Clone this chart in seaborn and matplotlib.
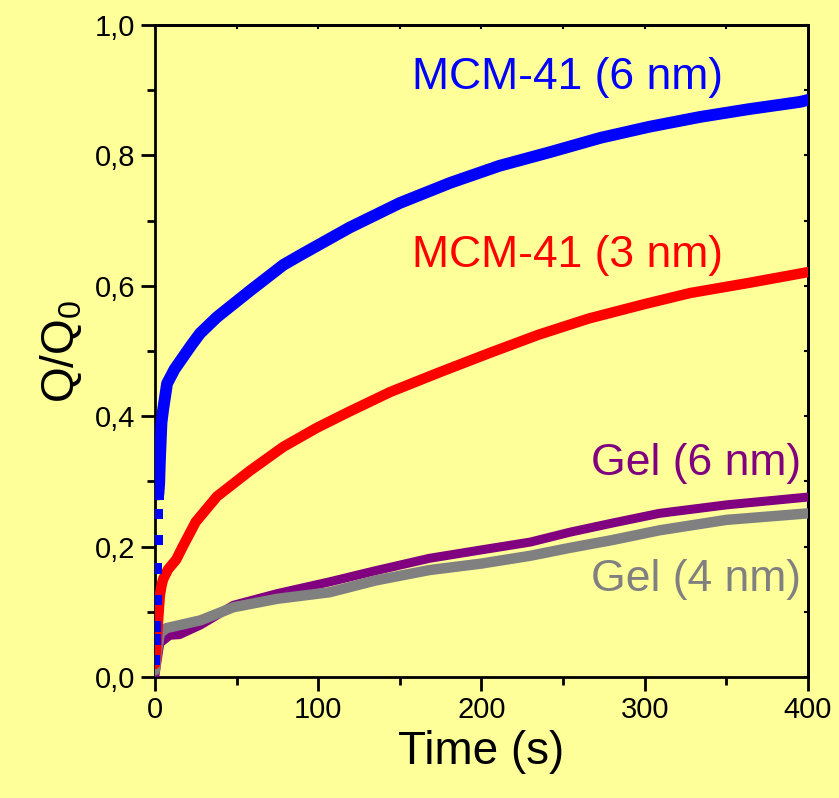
import matplotlib
import matplotlib.pyplot as plt
import seaborn as sns
from matplotlib.ticker import MultipleLocator, FuncFormatter

matplotlib.use('Agg')

# values
t_mcm6 = [0, 0.3, 0.6, 0.9, 1.2, 1.5, 1.8, 2.1,
          2.6, 3, 3.5, 4, 5, 7.4, 12, 17, 22, 27.6, 38, 58, 78.6, 89, 104,
          119, 150, 181, 211, 242, 273, 303, 334, 364, 395, 400]
q_mcm6 = [0.026, 0.057, 0.077, 0.118, 0.166, 0.21, 0.25, 0.28,
          0.297, 0.33, 0.36, 0.39, 0.41, 0.45, 0.472, 0.49, 0.508, 0.527, 0.552, 0.592, 0.632, 0.647,
          0.668, 0.689, 0.727, 0.758, 0.784, 0.805, 0.827, 0.844, 0.859, 0.871, 0.882, 0.885]

t_mcm3 = [0, 1, 2, 3, 4, 5, 8, 13, 17, 25, 38, 58, 78.6, 99, 119, 144, 175, 205,
          235, 266, 300, 328, 365, 400]
q_mcm3 = [0.02, 0.05, 0.09, 0.125, 0.14, 0.15, 0.165, 0.18, 0.2, 0.238, 0.277, 0.316, 0.353,
          0.382, 0.407, 0.437, 0.468, 0.497, 0.525, 0.55, 0.572, 0.589, 0.605, 0.621]

t_gel6 = [0, 1, 3, 9, 15, 28, 48, 75, 107, 135, 168, 200, 230, 254, 280, 309, 350, 400]
q_gel6 = [0.003, 0.02, 0.052, 0.064, 0.065, 0.08, 0.11, 0.128, 0.146, 0.163, 0.182, 0.195,
          0.207, 0.222, 0.236, 0.251, 0.264, 0.276]

t_gel4 = [0, 1, 3, 7, 28, 48, 75, 107, 135, 168, 200, 230, 254, 280, 309, 350, 400]
q_gel4 = [0.01, 0.035, 0.067, 0.075, 0.087, 0.107, 0.12, 0.13, 0.148, 0.164, 0.174, 0.186,
          0.198, 0.21, 0.225, 0.241, 0.251]

labels = ['MCM-41 (6 nm)', 'MCM-41 (3 nm)', 'Gel (6 nm)', 'Gel (4 nm)']
colors = ['#0000FF', '#FF0000', '#800080', '#808080']

bg = '#FFFF99'

sns.set_style('ticks')
plt.rcParams['font.family'] = ['Liberation Sans', 'DejaVu Sans']
plt.rcParams['mathtext.fontset'] = 'custom'
plt.rcParams['mathtext.rm'] = 'Liberation Sans'
for k in ['text.color', 'axes.labelcolor', 'xtick.color', 'ytick.color', 'axes.edgecolor']:
    plt.rcParams[k] = 'black'

fig = plt.figure(figsize=(8.39, 7.98), dpi=100, facecolor=bg)
ax = fig.add_axes([0.1847, 0.1516, 0.7783, 0.8171])
ax.set_facecolor(bg)

# blue: first points are isolated squares, then a dense band
n_sq = 8
sns.scatterplot(x=t_mcm6[:n_sq], y=q_mcm6[:n_sq], marker='s', s=60, color=colors[0],
                edgecolor='none', ax=ax, zorder=5)
sns.lineplot(x=t_mcm6[n_sq - 1:], y=q_mcm6[n_sq - 1:], color=colors[0], lw=8.5,
             sort=False, ax=ax, zorder=5)
sns.lineplot(x=t_mcm3, y=q_mcm3, color=colors[1], lw=7.5, sort=False, ax=ax, zorder=4)
sns.lineplot(x=t_gel6, y=q_gel6, color=colors[2], lw=6.5, sort=False, ax=ax, zorder=3)
sns.lineplot(x=t_gel4, y=q_gel4, color=colors[3], lw=7.5, sort=False, ax=ax, zorder=3)

# curve labels
ax.text(348, 0.919, labels[0], color=colors[0], fontsize=32, ha='right', va='center')
ax.text(348, 0.647, labels[1], color=colors[1], fontsize=32, ha='right', va='center')
ax.text(396, 0.328, labels[2], color=colors[2], fontsize=32, ha='right', va='center')
ax.text(396, 0.149, labels[3], color=colors[3], fontsize=32, ha='right', va='center')

ax.set_xlim(0, 400)
ax.set_ylim(0, 1.0)
ax.xaxis.set_major_locator(MultipleLocator(100))
ax.xaxis.set_minor_locator(MultipleLocator(50))
ax.yaxis.set_major_locator(MultipleLocator(0.2))
ax.yaxis.set_minor_locator(MultipleLocator(0.1))
ax.yaxis.set_major_formatter(FuncFormatter(lambda v, p: f'{v:.1f}'.replace('.', ',')))

for s in ax.spines.values():
    s.set_linewidth(2)
ax.tick_params(which='major', direction='out', length=10, width=2, labelsize=21, pad=4)
ax.tick_params(which='minor', direction='out', length=6, width=2)

top = ax.secondary_xaxis('top')
top.xaxis.set_major_locator(MultipleLocator(50))
top.tick_params(direction='in', length=3, width=1.5, labeltop=False)
top.spines['top'].set_linewidth(2)
right = ax.secondary_yaxis('right')
right.yaxis.set_major_locator(MultipleLocator(0.1))
right.tick_params(direction='in', length=3, width=1.5, labelright=False)
right.spines['right'].set_linewidth(2)

ax.set_xlabel('Time (s)', fontsize=33, labelpad=4)
ax.set_ylabel(r'$\mathregular{Q/Q_0}$', fontsize=33, labelpad=8)

fig.savefig('out.png', dpi=100, facecolor=bg)
